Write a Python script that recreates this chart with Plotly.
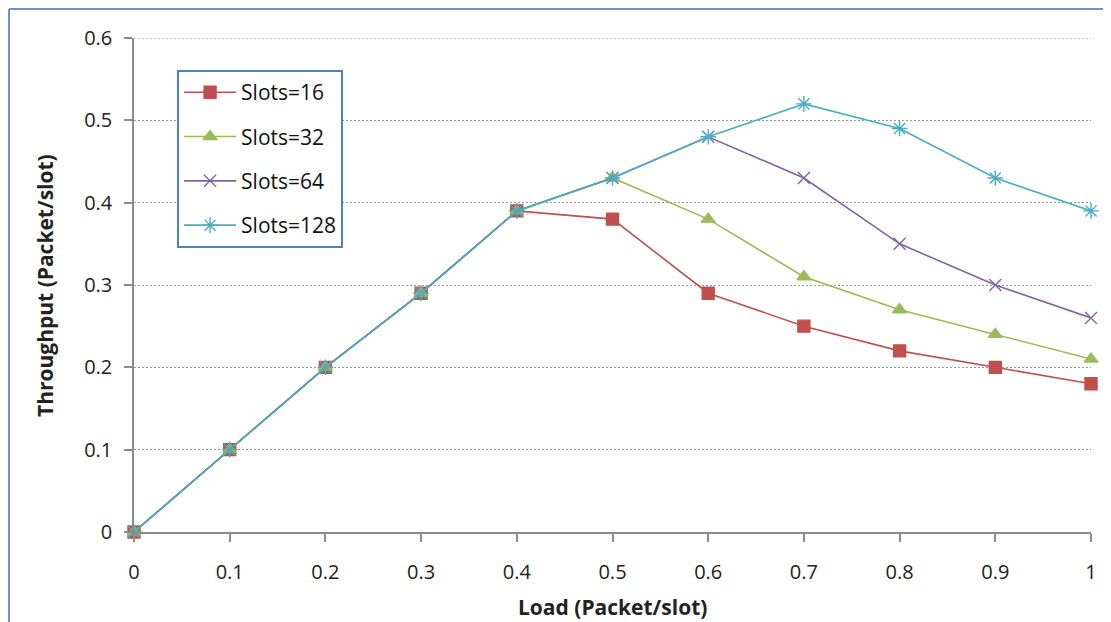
import plotly.graph_objects as go

load = [0, 0.1, 0.2, 0.3, 0.4, 0.5, 0.6, 0.7, 0.8, 0.9, 1.0]
slots16 = [0, 0.10, 0.20, 0.29, 0.39, 0.38, 0.29, 0.25, 0.22, 0.20, 0.18]
slots32 = [0, 0.10, 0.20, 0.29, 0.39, 0.43, 0.38, 0.31, 0.27, 0.24, 0.21]
slots64 = [0, 0.10, 0.20, 0.29, 0.39, 0.43, 0.48, 0.43, 0.35, 0.30, 0.26]
slots128 = [0, 0.10, 0.20, 0.29, 0.39, 0.43, 0.48, 0.52, 0.49, 0.43, 0.39]
names = ["Slots=16", "Slots=32", "Slots=64", "Slots=128"]
x_ticks = [0, 0.1, 0.2, 0.3, 0.4, 0.5, 0.6, 0.7, 0.8, 0.9, 1]
x_labels = ["0", "0.1", "0.2", "0.3", "0.4", "0.5", "0.6", "0.7", "0.8", "0.9", "1"]
y_ticks = [0, 0.1, 0.2, 0.3, 0.4, 0.5, 0.6]
y_labels = ["0", "0.1", "0.2", "0.3", "0.4", "0.5", "0.6"]
x_title = "Load (Packet/slot)"
y_title = "Throughput (Packet/slot)"

series = [slots16, slots32, slots64, slots128]
colors = ["#C0504D", "#9BBB59", "#8064A2", "#4BACC6"]
symbols = ["square", "triangle-up", "x-thin-open", "asterisk-open"]
sizes = [12, 12, 12, 13]

FONT = "'Open Sans', Lato, sans-serif"
AX = "#8C8C8C"

fig = go.Figure()
for i, (ys, nm) in enumerate(zip(series, names)):
    fig.add_trace(go.Scatter(
        x=load, y=ys, name=nm, mode="lines+markers",
        line=dict(color=colors[i], width=1.6),
        marker=dict(symbol=symbols[i], size=sizes[i], color=colors[i],
                    line=dict(color=colors[i], width=1.4)),
        legendgroup=nm, cliponaxis=False,
    ))

fig.update_layout(
    width=1111, height=622,
    margin=dict(l=126, r=28, t=30, b=98),
    paper_bgcolor="white", plot_bgcolor="white",
    font=dict(family=FONT, size=20, color="#222"),
    showlegend=True,
    legend=dict(
        x=0.045, y=0.935, xanchor="left", yanchor="top",
        bgcolor="white", bordercolor="#4F81BD", borderwidth=2,
        font=dict(family=FONT, size=21, color="#111"),
        tracegroupgap=14, itemwidth=52,
    ),
    xaxis=dict(
        range=[0, 1], tickvals=x_ticks, ticktext=x_labels,
        showgrid=False, zeroline=False,
        showline=True, linecolor=AX, linewidth=1.5,
        ticks="outside", ticklen=8, tickcolor=AX, tickwidth=1.5,
        ticklabelstandoff=13,
        tickfont=dict(family=FONT, size=20, color="#222"),
    ),
    yaxis=dict(
        range=[0, 0.6], tickvals=y_ticks, ticktext=y_labels,
        showgrid=True, gridcolor="#999999", griddash="2px,2px", gridwidth=1,
        zeroline=False,
        showline=True, linecolor=AX, linewidth=1.5,
        ticks="outside", ticklen=8, tickcolor=AX, tickwidth=1.5,
        ticklabelstandoff=8,
        tickfont=dict(family=FONT, size=20, color="#222"),
    ),
)

# top gridline at 0.6 (plotly omits gridline at the range edge)
fig.add_shape(type="line", xref="paper", yref="y", x0=0, x1=1, y0=0.6, y1=0.6,
              line=dict(color="#999999", width=1, dash="2px,2px"), layer="below")

# axis titles
fig.add_annotation(text="<b>" + x_title + "</b>", xref="paper", yref="paper",
                   x=0.5, y=-0.152, xanchor="center", yanchor="middle",
                   showarrow=False, font=dict(family=FONT, size=21, color="#222"))
fig.add_annotation(text="<b>" + y_title + "</b>", xref="paper", yref="paper",
                   x=-0.093, y=0.5, xanchor="center", yanchor="middle", textangle=-90,
                   showarrow=False, font=dict(family=FONT, size=21, color="#222"))

# outer chart border (Excel-style frame)
x_left = (9 - 134) / 957
y_top = (532 - 9) / 494
fig.add_shape(type="line", xref="paper", yref="paper",
              x0=x_left, x1=x_left, y0=-0.3, y1=y_top,
              line=dict(color="#6E93C8", width=2))
fig.add_shape(type="line", xref="paper", yref="paper",
              x0=x_left, x1=1.1, y0=y_top, y1=y_top,
              line=dict(color="#6E93C8", width=2))

fig.write_html("out.html")
